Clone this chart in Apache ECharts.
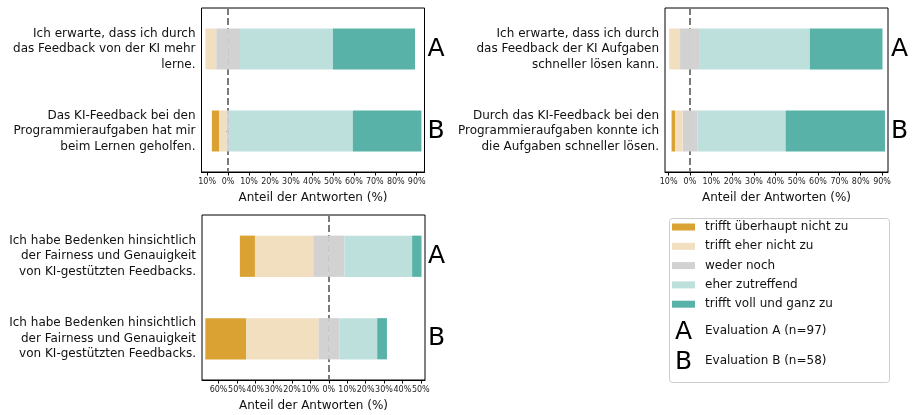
<!DOCTYPE html>
<html>
<head>
<meta charset="utf-8">
<script src="https://cdn.jsdelivr.net/npm/echarts@6/dist/echarts.min.js"></script>
<style>
  html, body { margin: 0; padding: 0; background: #fff; }
  #chart { width: 914px; height: 415px; }
</style>
</head>
<body>
<div id="chart"></div>
<script>
// Antwortkategorien (Farben in gleicher Reihenfolge)
const levels = ['trifft überhaupt nicht zu', 'trifft eher nicht zu', 'weder noch', 'eher zutreffend', 'trifft voll und ganz zu']
const levelColors = ['#d9a232', '#f1dfc0', '#d2d2d2', '#bde0dc', '#59b2a8']
const groups = ['A', 'B']

// Fragen
const questionsLearn = ['Ich erwarte, dass ich durch\ndas Feedback von der KI mehr\nlerne.', 'Das KI-Feedback bei den\nProgrammieraufgaben hat mir\nbeim Lernen geholfen.']
const questionsSpeed = ['Ich erwarte, dass ich durch\ndas Feedback der KI Aufgaben\nschneller lösen kann.', 'Durch das KI-Feedback bei den\nProgrammieraufgaben konnte ich\ndie Aufgaben schneller lösen.']
const questionsFair = ['Ich habe Bedenken hinsichtlich\nder Fairness und Genauigkeit\nvon KI-gestützten Feedbacks.', 'Ich habe Bedenken hinsichtlich\nder Fairness und Genauigkeit\nvon KI-gestützten Feedbacks.']

// Anteile in % je Kategorie (A = Evaluation A, B = Evaluation B)
const learnA = [0, 5.15, 11.34, 44.33, 39.18]
const learnB = [3.45, 3.45, 1.72, 58.62, 32.76]
const speedA = [0, 5.15, 9.28, 51.55, 34.02]
const speedB = [1.72, 3.45, 6.9, 41.38, 46.55]
const fairA = [8.2, 31.7, 17.0, 36.8, 5.1]
const fairB = [22.3, 39.2, 11.4, 20.6, 5.3]

// Achsenbeschriftungen
const ticksTop = [-10, 0, 10, 20, 30, 40, 50, 60, 70, 80, 90]
const ticksBottom = [-60, -50, -40, -30, -20, -10, 0, 10, 20, 30, 40, 50]

const legendLetters = [['A', 'Evaluation A (n=97)'], ['B', 'Evaluation B (n=58)']]

const font = 'DejaVu Sans'

const panels = [
  { questions: questionsLearn, a: learnA, b: learnB, ticks: ticksTop, min: -12.7, max: 93.7,
    grid: { left: 201.5, top: 8, width: 223, height: 164 } },
  { questions: questionsSpeed, a: speedA, b: speedB, ticks: ticksTop, min: -11.7, max: 92.8,
    grid: { left: 665, top: 8, width: 223, height: 164 } },
  { questions: questionsFair, a: fairA, b: fairB, ticks: ticksBottom, min: -69, max: 52.3,
    grid: { left: 202, top: 215, width: 223, height: 165 } }
]

let grids = []
let xAxes = []
let yAxes = []
let series = []

panels.forEach((p, g) => {
  grids.push(Object.assign({ show: true, borderColor: '#000', borderWidth: 1, containLabel: false }, p.grid))
  xAxes.push({
    type: 'value',
    gridIndex: g,
    min: p.min,
    max: p.max,
    name: 'Anteil der Antworten (%)',
    nameLocation: 'middle',
    nameGap: 20,
    nameTextStyle: { fontSize: 12, color: '#111', fontFamily: font, verticalAlign: 'top' },
    axisLine: { show: true, lineStyle: { color: '#000', width: 1 } },
    axisTick: { show: true, length: 3.5, customValues: p.ticks, lineStyle: { color: '#000' } },
    axisLabel: {
      customValues: p.ticks,
      fontSize: 8,
      color: '#222',
      margin: 6,
      fontFamily: font,
      formatter: (v) => Math.abs(v) + '%'
    },
    splitLine: { show: false }
  })
  // links: Fragen
  yAxes.push({
    type: 'category',
    gridIndex: g,
    inverse: true,
    data: groups,
    axisLine: { show: false },
    axisTick: { show: true, length: 3.5, alignWithLabel: true, lineStyle: { color: '#000' } },
    axisLabel: {
      fontSize: 12,
      lineHeight: 15.5,
      color: '#111',
      margin: 6,
      align: 'right',
      fontFamily: font,
      formatter: (v, i) => p.questions[i]
    },
    splitLine: { show: false }
  })
  // rechts: Buchstaben A / B
  yAxes.push({
    type: 'category',
    gridIndex: g,
    position: 'right',
    inverse: true,
    data: groups,
    axisLine: { show: false },
    axisTick: { show: false },
    axisLabel: { fontSize: 25, color: '#000', margin: 3, fontFamily: font },
    splitLine: { show: false }
  })

  const rows = [p.a, p.b]
  const yIdx = g * 2
  const stack = 'st' + g
  const base = { type: 'bar', xAxisIndex: g, yAxisIndex: yIdx, stack: stack, barWidth: '50%' }

  // negative Seite: zuerst halbe Neutrale, dann eher nicht, dann überhaupt nicht
  series.push(Object.assign({}, base, { name: levels[2], color: levelColors[2], z: 2,
    data: rows.map(r => -r[2] / 2) }))
  series.push(Object.assign({}, base, { name: levels[1], color: levelColors[1], z: 2,
    data: rows.map(r => -r[1]) }))
  series.push(Object.assign({}, base, { name: levels[0], color: levelColors[0], z: 1,
    data: rows.map(r => -r[0]),
    markLine: {
      silent: true,
      symbol: 'none',
      z: 1,
      label: { show: false },
      lineStyle: { color: '#7a7a7a', width: 2, type: [7, 3] },
      data: [{ xAxis: 0 }]
    }
  }))
  // positive Seite
  series.push(Object.assign({}, base, { name: levels[2], color: levelColors[2], z: 2,
    data: rows.map(r => r[2] / 2) }))
  series.push(Object.assign({}, base, { name: levels[3], color: levelColors[3], z: 2,
    data: rows.map(r => r[3]) }))
  series.push(Object.assign({}, base, { name: levels[4], color: levelColors[4], z: 2,
    data: rows.map(r => r[4]) }))
})

let graphics = [{
  type: 'rect',
  left: 667,
  top: 216,
  shape: { width: 220, height: 164, r: 3 },
  style: { fill: 'none', stroke: '#cccccc', lineWidth: 1 },
  z: 0
}]
legendLetters.forEach((item, i) => {
  graphics.push({
    type: 'text', left: 675, top: 320 + i * 30,
    style: { text: item[0], fontSize: 25, fill: '#000', fontFamily: font }
  })
  graphics.push({
    type: 'text', left: 705, top: 325 + i * 30,
    style: { text: item[1], fontSize: 12, fill: '#111', fontFamily: font }
  })
})

const myChart = echarts.init(document.getElementById('chart'), null, { renderer: 'canvas' })
myChart.setOption({
  animation: false,
  textStyle: { fontFamily: font },
  grid: grids,
  xAxis: xAxes,
  yAxis: yAxes,
  legend: {
    data: levels,
    orient: 'vertical',
    left: 667,
    top: 215,
    itemWidth: 23,
    itemHeight: 7,
    itemGap: 5.3,
    icon: 'rect',
    selectedMode: false,
    textStyle: { fontSize: 12, color: '#111', lineHeight: 14, padding: [0, 0, 0, 5], fontFamily: font }
  },
  graphic: graphics,
  series: series
})
</script>
</body>
</html>
